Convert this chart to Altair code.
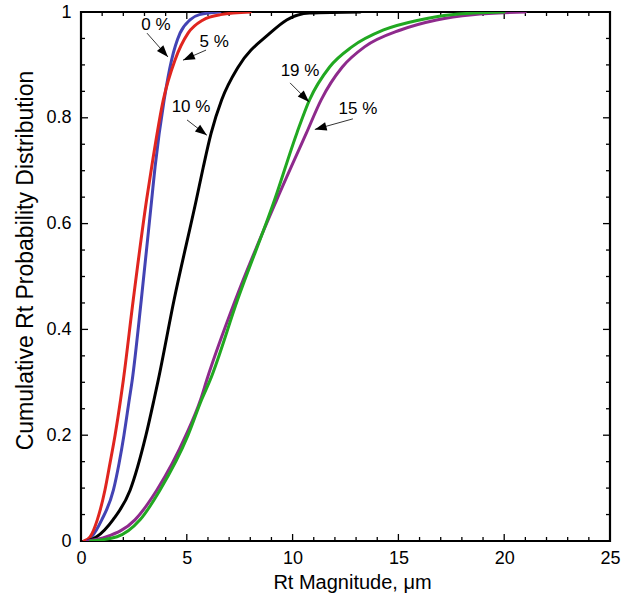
import math
import altair as alt
import pandas as pd

W, H = 529, 529
XMAX, YMAX = 25.0, 1.0
FONT = "Liberation Sans"

# ---- curve data ----
series_names = ["0 %", "5 %", "10 %", "15 %", "19 %"]
series_colors = ["#4343b4", "#e0251f", "#000000", "#8e2a8c", "#21a821"]

x_0 = [0.24, 0.5, 0.98, 1.53, 1.80, 2.03, 2.28, 2.42, 2.85, 3.34, 3.5, 3.93, 4.28, 4.68, 5.15, 5.6, 6.57]
y_0 = [0.0, 0.008, 0.04, 0.096, 0.147, 0.2, 0.267, 0.304, 0.456, 0.645, 0.707, 0.834, 0.909, 0.96, 0.985, 0.995, 1.0]

x_5 = [0.14, 0.43, 0.77, 1.13, 1.37, 1.61, 1.87, 2.0, 2.47, 3.1, 3.34, 3.89, 4.44, 5.06, 5.77, 6.6, 8.0]
y_5 = [0.0, 0.008, 0.04, 0.096, 0.147, 0.2, 0.267, 0.304, 0.456, 0.645, 0.707, 0.834, 0.909, 0.96, 0.985, 0.995, 1.0]

x_10 = [0.33, 0.74, 1.51, 2.32, 3.07, 3.45, 3.65, 4.4, 5.45, 5.78, 6.15, 6.65, 7.43, 8.93, 9.72, 10.8, 13.2]
y_10 = [0.0, 0.008, 0.04, 0.096, 0.2, 0.267, 0.304, 0.456, 0.645, 0.707, 0.771, 0.834, 0.896, 0.96, 0.985, 0.998, 1.0]

x_15 = [0.3, 1.21, 2.55, 3.58, 4.96, 5.65, 5.94, 7.3, 9.25, 10.65, 11.35, 12.35, 13.4, 15.1, 16.8, 18.5, 21.0]
y_15 = [0.0, 0.008, 0.04, 0.096, 0.2, 0.267, 0.304, 0.456, 0.645, 0.771, 0.834, 0.896, 0.934, 0.966, 0.985, 0.995, 1.0]

x_19 = [0.45, 1.7, 2.79, 3.73, 5.06, 5.7, 6.1, 7.4, 9.15, 10.2, 10.8, 11.75, 12.8, 14.3, 16.0, 17.5, 20.0]
y_19 = [0.0, 0.008, 0.04, 0.096, 0.2, 0.267, 0.304, 0.456, 0.645, 0.771, 0.834, 0.896, 0.934, 0.966, 0.985, 0.995, 1.0]

series_x = [x_0, x_5, x_10, x_15, x_19]
series_y = [y_0, y_5, y_10, y_15, y_19]

# ---- annotations ----
ann_labels = ["0 %", "5 %", "10 %", "19 %", "15 %"]
ann_text_x = [3.54, 6.29, 5.20, 10.35, 13.09]
ann_text_y = [0.975, 0.943, 0.820, 0.888, 0.817]
arrow_x0 = [3.12, 5.91, 5.01, 9.88, 12.85]
arrow_y0 = [0.960, 0.928, 0.796, 0.866, 0.798]
arrow_x1 = [4.11, 4.82, 5.95, 10.78, 11.05]
arrow_y1 = [0.915, 0.909, 0.767, 0.830, 0.778]

# ---- ticks ----
x_major = [0, 5, 10, 15, 20, 25]
x_minor = [v for v in range(0, 26) if v % 5 != 0]
y_major = [0, 0.2, 0.4, 0.6, 0.8, 1.0]
y_minor = [round(0.05 * i, 2) for i in range(21) if i % 4 != 0]

xs = alt.Scale(domain=[0, XMAX], nice=False, zero=False)
ys = alt.Scale(domain=[0, YMAX], nice=False, zero=False)

layers = []

# axes (labels and titles only)
base_axes = alt.Chart(pd.DataFrame({"x": [0.0], "y": [0.0]})).mark_point(opacity=0).encode(
    x=alt.X("x:Q", scale=xs, axis=alt.Axis(values=x_major, format="~g", ticks=False, domain=False,
                                           grid=False, labelPadding=8, labelFontSize=18,
                                           labelFlush=False,
                                           labelFont=FONT, labelColor="black",
                                           title="Rt Magnitude, μm", titleFont=FONT,
                                           titleFontSize=20, titleFontWeight="normal",
                                           titleColor="black", titlePadding=5, titleX=271)),
    y=alt.Y("y:Q", scale=ys, axis=alt.Axis(values=y_major, format="~g", ticks=False, domain=False,
                                           grid=False, labelPadding=10, labelFontSize=18,
                                           labelFlush=False,
                                           labelFont=FONT, labelColor="black",
                                           title="Cumulative Rt Probability Distribution",
                                           titleFont=FONT, titleFontSize=23,
                                           titleFontWeight="normal", titleColor="black",
                                           titlePadding=8, titleY=248)),
)
layers.append(base_axes)

def xticks(vals, length):
    df = pd.DataFrame({"v": vals})
    bottom = alt.Chart(df).mark_rule(color="black", strokeWidth=1.3).encode(
        x=alt.X("v:Q", scale=xs), y=alt.value(H), y2=alt.value(H - length))
    top = alt.Chart(df).mark_rule(color="black", strokeWidth=1.3).encode(
        x=alt.X("v:Q", scale=xs), y=alt.value(0), y2=alt.value(length))
    return [bottom, top]

def yticks(vals, length):
    df = pd.DataFrame({"v": vals})
    left = alt.Chart(df).mark_rule(color="black", strokeWidth=1.3).encode(
        y=alt.Y("v:Q", scale=ys), x=alt.value(0), x2=alt.value(length))
    right = alt.Chart(df).mark_rule(color="black", strokeWidth=1.3).encode(
        y=alt.Y("v:Q", scale=ys), x=alt.value(W), x2=alt.value(W - length))
    return [left, right]

layers += xticks(x_major, 7) + xticks(x_minor, 4) + yticks(y_major, 7) + yticks(y_minor, 4)

# curves, drawn in order
for name, color, sx, sy in zip(series_names, series_colors, series_x, series_y):
    df = pd.DataFrame({"x": sx, "y": sy, "i": list(range(len(sx)))})
    layers.append(
        alt.Chart(df).mark_line(color=color, strokeWidth=3, clip=True, interpolate="monotone",
                                strokeJoin="round", strokeCap="round").encode(
            x=alt.X("x:Q", scale=xs), y=alt.Y("y:Q", scale=ys), order="i:Q")
    )

# annotation arrows
angles = []
for a, b, c, d in zip(arrow_x0, arrow_y0, arrow_x1, arrow_y1):
    dx = (c - a) * W / XMAX
    dy = -(d - b) * H / YMAX
    angles.append(math.degrees(math.atan2(dx, -dy)) % 360)

ann = pd.DataFrame({"label": ann_labels, "tx": ann_text_x, "ty": ann_text_y,
                    "x0": arrow_x0, "y0": arrow_y0, "x1": arrow_x1, "y1": arrow_y1,
                    "ang": angles})

layers.append(alt.Chart(ann).mark_rule(color="black", strokeWidth=0.8).encode(
    x=alt.X("x0:Q", scale=xs), y=alt.Y("y0:Q", scale=ys), x2="x1:Q", y2="y1:Q"))
layers.append(alt.Chart(ann).mark_point(
    shape="M0,0 L-0.36,1 L0.36,1 Z", filled=True, color="black", opacity=1,
    size=560, strokeWidth=0).encode(
    x=alt.X("x1:Q", scale=xs), y=alt.Y("y1:Q", scale=ys),
    angle=alt.Angle("ang:Q", scale=None)))
layers.append(alt.Chart(ann).mark_text(font=FONT, fontSize=17, color="black",
                                       align="center", baseline="middle").encode(
    x=alt.X("tx:Q", scale=xs), y=alt.Y("ty:Q", scale=ys), text="label:N"))

chart = alt.layer(*layers).properties(
    width=W, height=H,
    autosize=alt.AutoSizeParams(type="none"),
    padding={"left": 81, "top": 12, "right": 21, "bottom": 58},
    background="white",
).configure_view(stroke="black", strokeWidth=2.2)

chart.save("out.html", embed_options={"renderer": "svg", "actions": False})
